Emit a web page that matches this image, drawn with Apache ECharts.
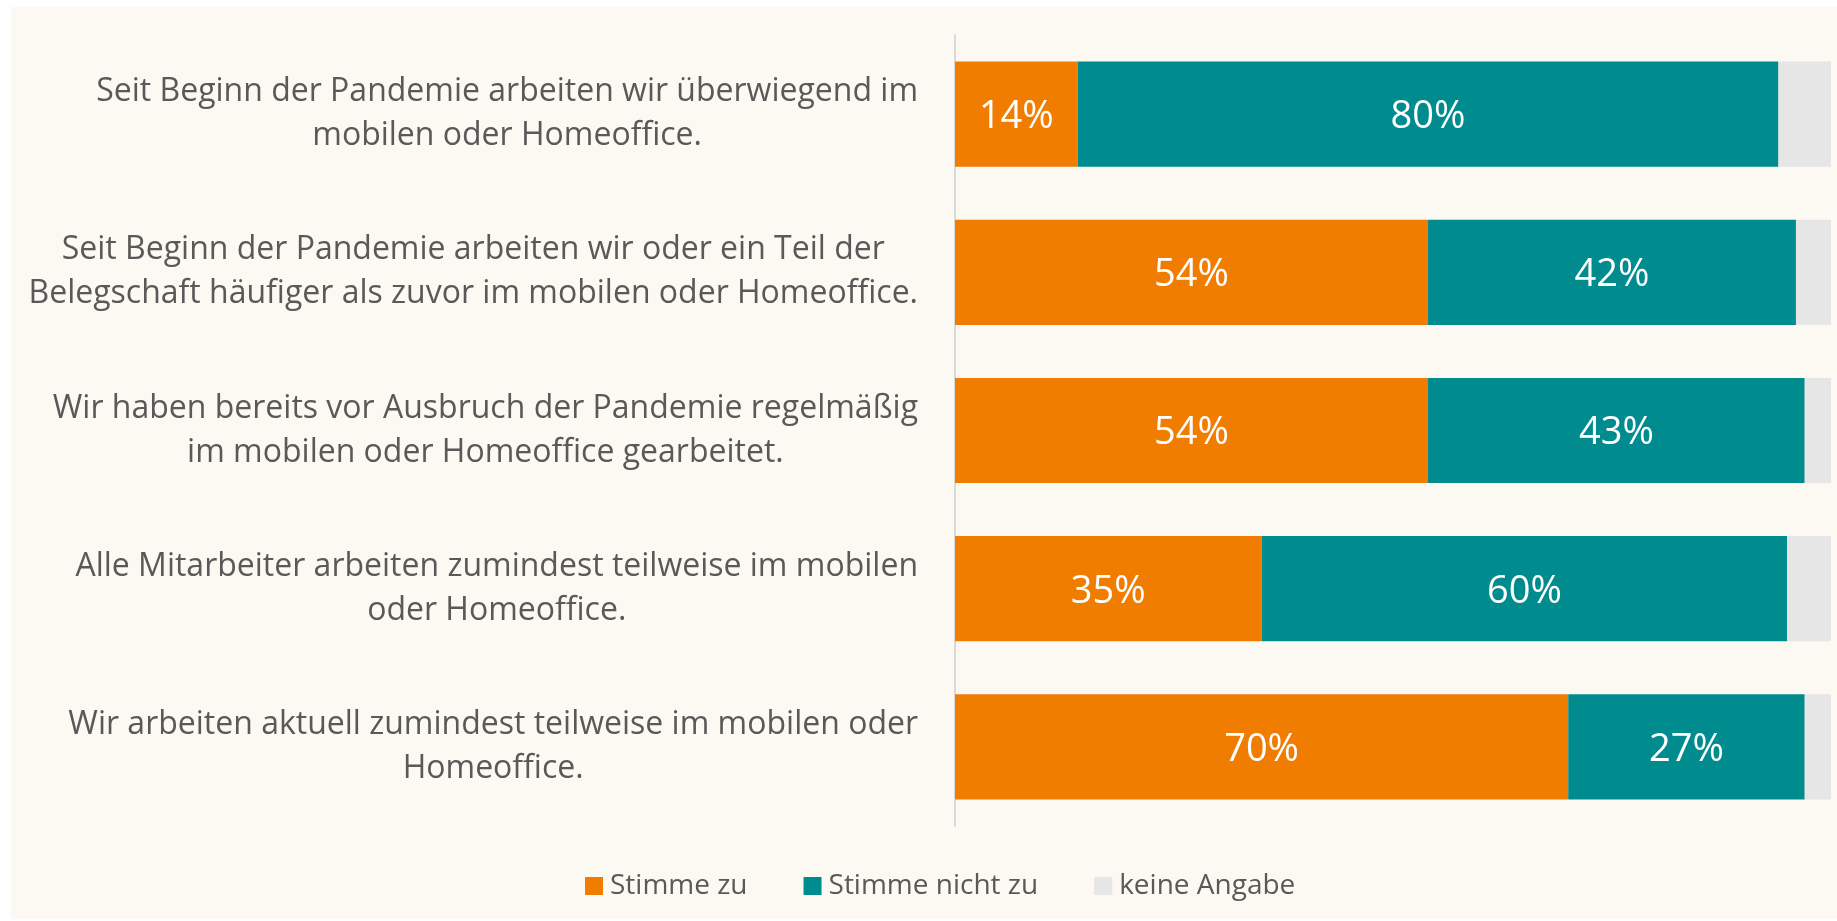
<!DOCTYPE html>
<html>
<head>
<meta charset="utf-8">
<script src="https://cdn.jsdelivr.net/npm/echarts@6/dist/echarts.min.js"></script>
<style>
  html, body { margin: 0; padding: 0; background: #ffffff; width: 1837px; height: 921px; overflow: hidden; }
  #chart { position: absolute; left: 11px; top: 7px; width: 1826px; height: 912px; background: #FCF8F2; }
</style>
</head>
<body>
<div id="chart"></div>
<script>
const categories = [
  "Seit Beginn der Pandemie arbeiten wir überwiegend im\nmobilen oder Homeoffice.",
  "Seit Beginn der Pandemie arbeiten wir oder ein Teil der\nBelegschaft häufiger als zuvor im mobilen oder Homeoffice.",
  "Wir haben bereits vor Ausbruch der Pandemie regelmäßig\nim mobilen oder Homeoffice gearbeitet.",
  "Alle Mitarbeiter arbeiten zumindest teilweise im mobilen\noder Homeoffice.",
  "Wir arbeiten aktuell zumindest teilweise im mobilen oder\nHomeoffice."
];
const seriesNames = ["Stimme zu", "Stimme nicht zu", "keine Angabe"];
const stimmeZu = [14, 54, 54, 35, 70];
const stimmeNichtZu = [80, 42, 43, 60, 27];
const keineAngabe = [6, 4, 3, 5, 3];

const colors = ["#F07D00", "#008C8F", "#E6E6E6"];
const FONT = "'Open Sans', 'Noto Sans', sans-serif";

const chart = echarts.init(document.getElementById('chart'));

const valueLabel = {
  show: true,
  position: 'inside',
  formatter: '{c}%',
  color: '#ffffff',
  fontSize: 38,
  fontFamily: FONT,
  offset: [0, 3]
};

chart.setOption({
  animation: false,
  textStyle: { fontFamily: FONT },
  grid: { left: 944, right: 6, top: 28, bottom: 93 },
  xAxis: {
    type: 'value', min: 0, max: 100, show: false
  },
  yAxis: {
    type: 'category',
    inverse: true,
    data: categories,
    axisLine: { show: true, lineStyle: { color: '#D9D9D9', width: 2 } },
    axisTick: { show: false },
    axisLabel: {
      margin: 37,
      align: 'right',
      formatter: function (v) {
        return v.split('\n').map(function (l) { return '{c|' + l + '}'; }).join('\n');
      },
      rich: {
        c: { align: 'center', fontSize: 32, lineHeight: 44, color: '#595959', fontFamily: FONT }
      }
    }
  },
  legend: {
    left: 569,
    top: 860,
    itemWidth: 18,
    itemHeight: 18,
    itemGap: 56,
    icon: 'rect',
    textStyle: { fontSize: 28, color: '#595959', fontFamily: FONT, padding: [0, 0, 0, 2] },
    data: seriesNames
  },
  series: [
    { name: seriesNames[0], type: 'bar', stack: 'a', data: stimmeZu, barCategoryGap: '33.5%',
      itemStyle: { color: colors[0] }, label: valueLabel },
    { name: seriesNames[1], type: 'bar', stack: 'a', data: stimmeNichtZu,
      itemStyle: { color: colors[1] }, label: valueLabel },
    { name: seriesNames[2], type: 'bar', stack: 'a', data: keineAngabe,
      itemStyle: { color: colors[2] }, label: { show: false } }
  ]
});
</script>
</body>
</html>
